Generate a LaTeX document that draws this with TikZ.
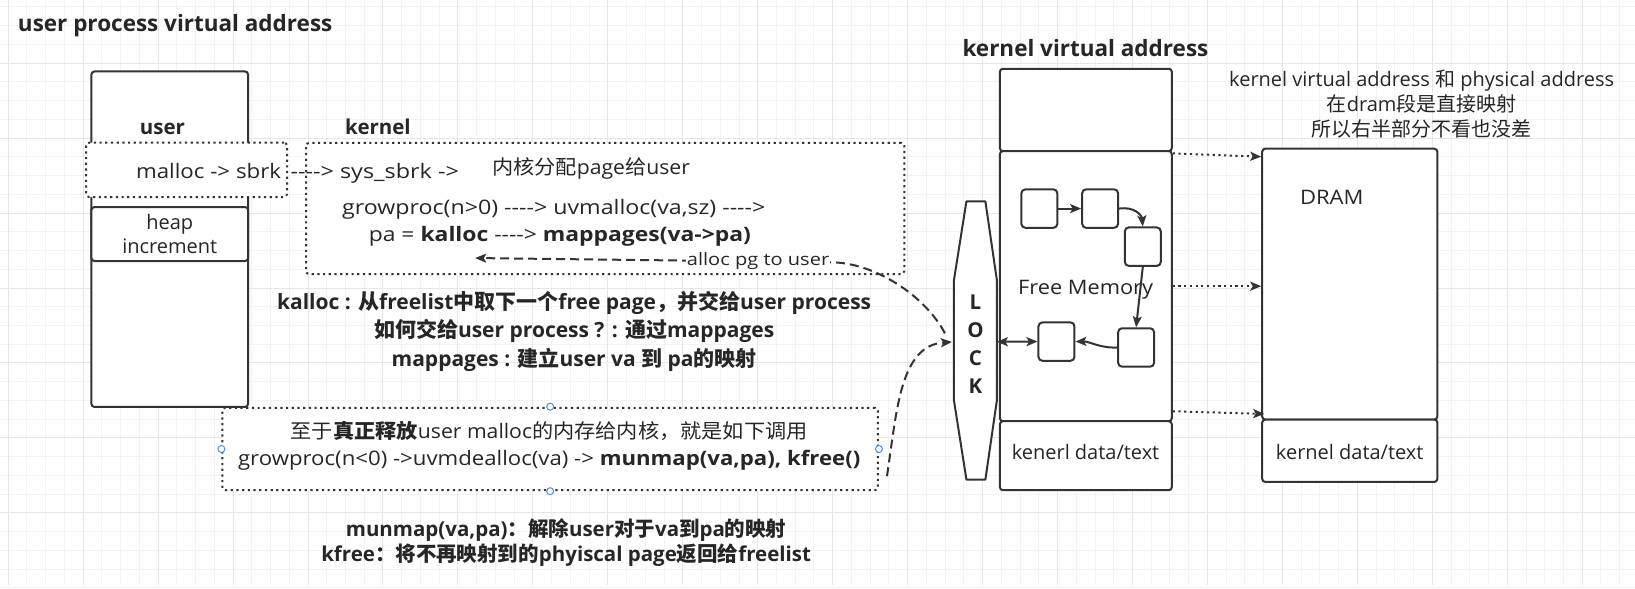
\documentclass[tikz,border=0pt]{standalone}
\usepackage{fontspec}
\usepackage{graphicx}
\setmainfont{Open Sans}[Ligatures=TeXOff]
\newfontfamily\cjk{Noto Sans CJK SC}
\usetikzlibrary{arrows.meta}
\definecolor{ink}{HTML}{333333}
\definecolor{tink}{HTML}{262626}
\definecolor{gmin}{HTML}{F3F3F3}
\definecolor{gmaj}{HTML}{E6E6E6}
\definecolor{hand}{HTML}{4A90E2}
\newcommand\myfs[2]{\fontsize{#1}{#2}\selectfont}
\newcommand\sx[2]{\scalebox{#1}[1]{#2}}
\begin{document}
\begin{tikzpicture}[x=1pt,y=-1pt,
  rbox/.style={draw=ink,line width=2pt,rounded corners=3pt,fill=white,inner sep=0pt},
  dbox/.style={draw=ink,line width=2pt,rounded corners=3pt,dash pattern=on 2.2pt off 3.5pt,fill=white,inner sep=0pt},
  sbox/.style={draw=ink,line width=2pt,rounded corners=4pt,fill=white,inner sep=0pt,minimum width=36pt,minimum height=38.5pt},
  txt/.style={inner sep=0pt,text=tink,font=\myfs{20}{25}},
  one/.style={text height=15pt,text depth=0pt},
  btxt/.style={txt,font=\myfs{20.5}{25}\bfseries},
  tip/.style={-{Stealth[length=11pt,width=9pt,inset=2.5pt]}},
  solarr/.style={draw=ink,line width=2pt,tip},
  dotarr/.style={draw=ink,line width=2pt,dash pattern=on 2.2pt off 3.5pt,tip},
  dasharr/.style={draw=ink,line width=2pt,dash pattern=on 9pt off 5pt,tip},
  handle/.style={circle,draw=hand,fill=white,line width=1pt,minimum size=7pt,inner sep=0pt}
]
% background grid
\fill[white] (0,0) rectangle (1635,585);
\begin{scope}[line width=1pt]
\foreach \k in {0,...,86} \draw[gmin] ({7.7+18.75*\k},0) -- ({7.7+18.75*\k},585);
\foreach \k in {1,...,32} \draw[gmin] (0,{-12.3+18.75*\k}) -- (1635,{-12.3+18.75*\k});
\foreach \k in {0,...,21} \draw[gmaj] ({7.7+75*\k},0) -- ({7.7+75*\k},585);
\foreach \k in {1,...,7} \draw[gmaj] (0,{-12.3+75*\k}) -- (1635,{-12.3+75*\k});
\end{scope}
\useasboundingbox (0,0) rectangle (1635,585);

% left part
\node[dbox,minimum width=656pt,minimum height=82.5pt] (fbox) at (550,448.75) {};
\node[rbox,minimum width=156.7pt,minimum height=335.7pt] (ucol) at (169.35,238.85) {};
\node[dbox,minimum width=201pt,minimum height=54.4pt] (mbox) at (186.2,169.5) {};
\node[rbox,minimum width=156.7pt,minimum height=54pt,align=center,text=tink,font=\myfs{20}{23.3}] (heap) at (169.35,233.7) {heap\\increment};
\node[dbox,minimum width=598.6pt,minimum height=131.2pt] (kbox) at (605,208.1) {};

\node[btxt,font=\myfs{22.5}{27}\bfseries,one,anchor=west] (title) at (17.3,23.3) {user process virtual address};
\node[btxt,one] (ulab) at (162,126.7) {user};
\node[btxt,one] (klab) at (377.7,126.7) {kernel};
\node[txt,one,anchor=east] (malloc) at (281,171) {\sx{1.115}{malloc -> sbrk}};
\node[txt,one,anchor=west] (sys) at (290,171) {\sx{1.17}{----> sys\_sbrk ->}};
\node[txt,one,anchor=west] (kpage) at (491.7,166.7) {\sx{1.06}{{\cjk 内核分配}page{\cjk 给}user}};
\node[txt,one,anchor=west] (grow) at (341.7,206.7) {\sx{1.16}{growproc(n>0) ----> uvmalloc(va,sz) ---->}};
\node[txt,one,anchor=west] (pa) at (368.3,233.3) {\sx{1.145}{pa = \textbf{kalloc} ----> \textbf{mappages(va->pa)}}};

\node[txt,font=\myfs{21}{28.3}\bfseries,align=center] (kdesc) at (574,331) {kalloc : {\cjk 从}freelist{\cjk 中取下一个}free page{\cjk ，并交给}user process\\{\cjk 如何交给}user process ? : {\cjk 通过}mappages\\mappages : {\cjk 建立}user va {\cjk 到} pa{\cjk 的映射}};
\node[txt,font=\myfs{20}{26.7},align=center] (ftext) at (549,445.5) {\sx{1.06}{{\cjk 至于}\textbf{\cjk 真正释放}user malloc{\cjk 的内存给内核，就是如下调用}}\\\sx{1.11}{growproc(n<0) ->uvmdealloc(va) -> \textbf{munmap(va,pa), kfree()}}};
\node[txt,font=\myfs{20.5}{25}\bfseries,align=center] (notes) at (566,542) {munmap(va,pa){\cjk ：解除}user{\cjk 对于}va{\cjk 到}pa{\cjk 的映射}\\kfree{\cjk ：将不再映射到的}phyiscal page{\cjk 返回给}freelist};

% right part
\node[btxt,font=\myfs{22.5}{27}\bfseries,one] (ktitle) at (1085.6,48.3) {kernel virtual address};
\node[txt,align=center] (rnote) at (1422,104) {kernel virtual address {\cjk 和} physical address\\{\cjk 在}dram{\cjk 段是直接映射}\\{\cjk 所以右半部分不看也没差}};

\node[rbox,minimum width=172pt,minimum height=82.4pt] (ktop) at (1086,109.5) {};
\node[rbox,minimum width=172pt,minimum height=270.3pt] (kfree) at (1086,285.85) {};
\node[rbox,minimum width=172pt,minimum height=69pt] (kdata) at (1086,455.5) {};
\node[rbox,minimum width=175.2pt,minimum height=271pt] (dram) at (1350.1,283.8) {};
\node[rbox,minimum width=175.2pt,minimum height=62.4pt] (ddata) at (1350.1,450.5) {};

\node[txt,one] (fm) at (1085.8,286.7) {\sx{1.09}{Free Memory}};
\node[txt,one] (kdl) at (1085.7,451.7) {kenerl data/text};
\node[txt,one] (ddl) at (1350,451.7) {kernel data/text};
\node[txt,one] (dl) at (1332,196.7) {\sx{1.1}{DRAM}};

\node[sbox] (b1) at (1039.5,208.2) {};
\node[sbox] (b2) at (1100.3,208.2) {};
\node[sbox] (b3) at (1143,246.3) {};
\node[sbox] (b4) at (1136.3,347.2) {};
\node[sbox] (b5) at (1056.6,341.3) {};

% lock
\draw[ink,line width=2pt,fill=white,line join=round] (966.5,201) -- (985.5,201) -- (997,280) -- (997,400) -- (985.5,479.3) -- (966.5,479.3) -- (954,400) -- (954,280) -- cycle;
\node[txt,font=\myfs{20.5}{28}\bfseries,align=center] (lock) at (975.5,344) {L\\O\\C\\K};
\coordinate (lockL) at (952,341.7);
\coordinate (lockR) at (997,341.5);
\coordinate (lockA) at (945,333);
\coordinate (atip) at (475,257.7);
\coordinate (fstart) at (887,476);

% arrows
\draw[solarr] (b1) -- (b2);
\draw[solarr] (b2.east) .. controls (1135,206) and (1142,215) .. (b3.north);
\draw[solarr] (b3.south) -- (b4.north);
\draw[solarr] (b4.west) .. controls (1100,348) and (1090,341) .. (b5.east);
\draw[draw=ink,line width=2pt,{Stealth[length=11pt,width=9pt,inset=2.5pt]}-{Stealth[length=11pt,width=9pt,inset=2.5pt]}] (lockR) -- (b5.west);

\draw[dotarr] ([yshift=-3.3pt]kfree.north east) -- ([yshift=-9pt]dram.north west);
\draw[dotarr] (kfree.east) -- (kfree.east -| dram.west);
\draw[dotarr] ([yshift=11pt]kfree.south east) -- ([yshift=6.6pt,xshift=3pt]dram.south west);

\draw[dasharr] (lockA) .. controls (925,295) and (875,263) .. (833,262) -- (atip);
\node[txt,font=\myfs{17}{20},fill=white,inner sep=1pt] (alab) at (758,261) {\sx{1.18}{alloc pg to user}};
\draw[dasharr] (fstart) .. controls (897,410) and (900,345) .. (lockL);

% selection handles
\node[handle] (h1) at (fbox.north) {};
\node[handle] (h2) at (fbox.west) {};
\node[handle] (h3) at (fbox.east) {};
\node[handle] (h4) at (fbox.south) {};
\end{tikzpicture}
\end{document}
